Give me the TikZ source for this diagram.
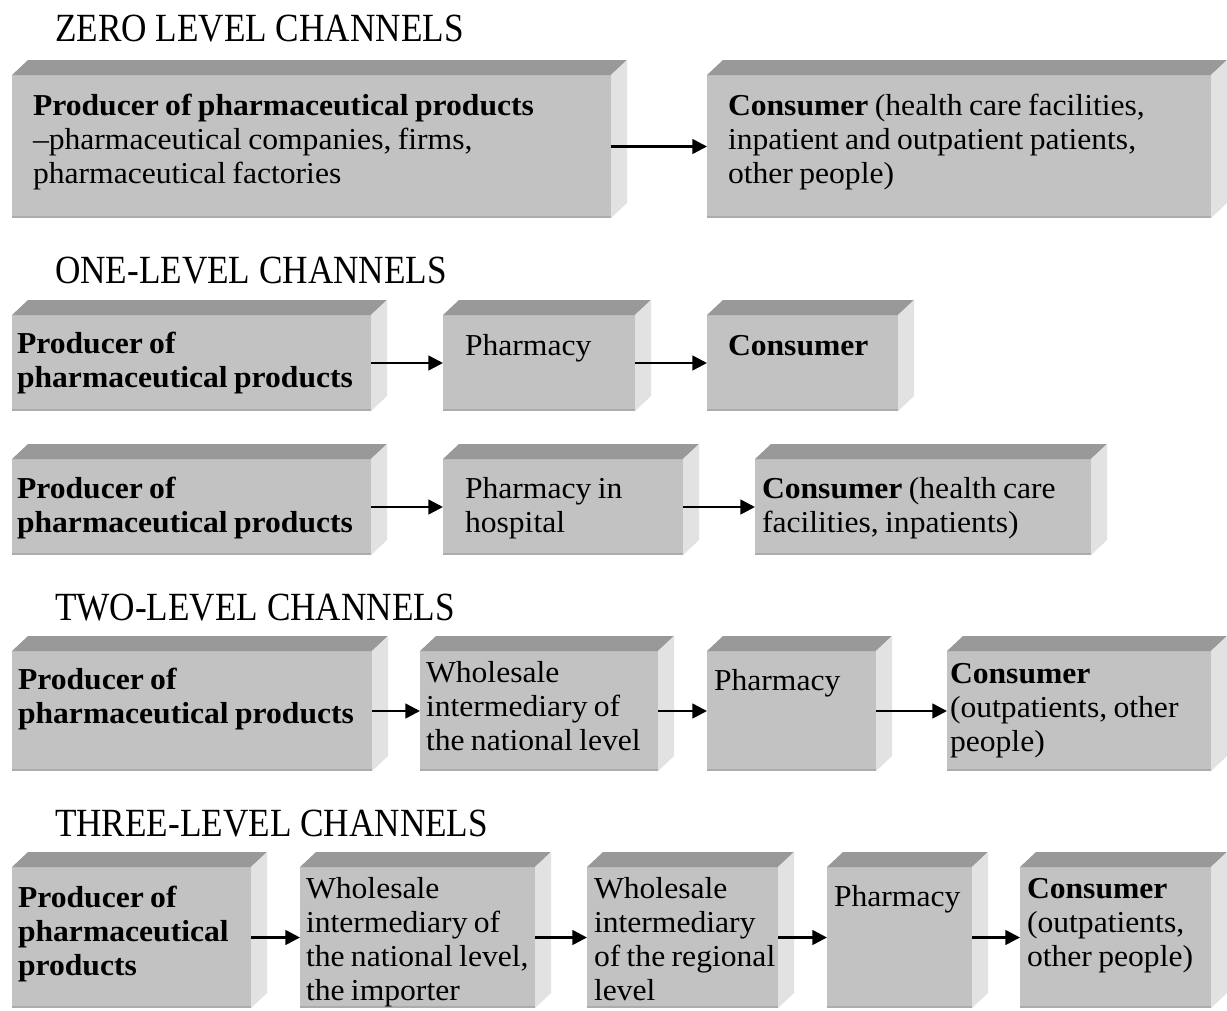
\documentclass[tikz,border=0pt]{standalone}
\usepackage{fontspec}
\setmainfont{Liberation Serif}[FakeStretch=1.04]
\newfontfamily\titlefont{Liberation Serif}[FakeStretch=0.88]
\usetikzlibrary{arrows.meta,fit}
\definecolor{frontc}{RGB}{194,194,194}
\definecolor{topc}{RGB}{153,153,153}
\definecolor{sidec}{RGB}{226,226,226}
\definecolor{edgec}{RGB}{172,172,172}
\newcommand\tightspacing{\spaceskip=0.21em plus 0.05em\relax}
\tikzset{
  front/.style={fill=frontc, inner sep=0pt, outer sep=0pt, draw=none},
  txt/.style={anchor=base west, inner sep=0pt, outer sep=0pt, text width=640pt, align=left,
    font=\fontsize{22.8}{25.5}\selectfont, execute at begin node=\tightspacing},
  ttl/.style={anchor=base west, inner sep=0pt, outer sep=0pt, font=\titlefont\fontsize{30}{36}\selectfont},
  flow/.style={line width=1.9pt, -{Triangle[length=11pt,width=11pt]}},
}
\newcommand\mkcube[5]{%
  \node[front, fit={(#2,#3) (#4,#5)}] (#1) {};
  \fill[topc] (#1.north west) -- ([shift={(16,-15)}]#1.north west) -- ([shift={(16,-15)}]#1.north east) -- (#1.north east) -- cycle;
  \fill[sidec] (#1.north east) -- ([shift={(16,-15)}]#1.north east) -- ([shift={(16,-15)}]#1.south east) -- (#1.south east) -- cycle;
  \draw[edgec, line width=1.2pt] ([yshift=0.6pt]#1.south west) -- ([yshift=0.6pt]#1.south east);
}
\begin{document}
\begin{tikzpicture}[x=0.75pt, y=-0.75pt]
\useasboundingbox[fill=white] (0,0) rectangle (1227,1010);

% titles
\node[ttl] (t0) at (55,41) {ZERO LEVEL CHANNELS};
\node[ttl] (t1) at (55,283) {ONE-LEVEL CHANNELS};
\node[ttl] (t2) at (55,620) {TWO-LEVEL CHANNELS};
\node[ttl] (t3) at (55,836) {THREE-LEVEL CHANNELS};

% boxes
\mkcube{A}{12}{75}{611}{218}
\mkcube{B}{707}{75}{1211}{218}
\mkcube{C}{12}{315}{371}{411}
\mkcube{D}{443}{315}{635}{411}
\mkcube{E}{707}{315}{898}{411}
\mkcube{F}{12}{459}{371}{555}
\mkcube{G}{443}{459}{683}{555}
\mkcube{H}{755}{459}{1091}{555}
\mkcube{I}{12}{651}{372}{771}
\mkcube{J}{420}{651}{658}{771}
\mkcube{K}{707}{651}{876}{771}
\mkcube{L}{947}{651}{1211}{771}
\mkcube{M}{12}{867}{251}{1008}
\mkcube{N}{300}{867}{535}{1008}
\mkcube{O}{587}{867}{778}{1008}
\mkcube{P}{827}{867}{972}{1008}
\mkcube{Q}{1020}{867}{1211}{1008}

% texts
\node[txt] (At) at (33,115) {\textbf{Producer of pharmaceutical products}\\ –pharmaceutical companies, firms,\\ pharmaceutical factories};
\node[txt] (Bt) at (728,115) {\textbf{Consumer} (health care facilities,\\ inpatient and outpatient patients,\\ other people)};
\node[txt] (Ct) at (17,353) {\textbf{Producer of\\ pharmaceutical products}};
\node[txt] (Dt) at (465,355) {Pharmacy};
\node[txt] (Et) at (728,355) {\textbf{Consumer}};
\node[txt] (Ft) at (17,498) {\textbf{Producer of\\ pharmaceutical products}};
\node[txt] (Gt) at (465,498) {Pharmacy in\\ hospital};
\node[txt] (Ht) at (762,498) {\textbf{Consumer} (health care\\ facilities, inpatients)};
\node[txt] (It) at (18,689) {\textbf{Producer of\\ pharmaceutical products}};
\node[txt] (Jt) at (426,682) {Wholesale\\ intermediary of\\ the national level};
\node[txt] (Kt) at (714,690) {Pharmacy};
\node[txt] (Lt) at (950,683) {\textbf{Consumer}\\ (outpatients, other\\ people)};
\node[txt] (Mt) at (18,907) {\textbf{Producer of\\ pharmaceutical\\ products}};
\node[txt] (Nt) at (306,898) {Wholesale\\ intermediary of\\ the national level,\\ the importer};
\node[txt] (Ot) at (594,898) {Wholesale\\ intermediary\\ of the regional\\ level};
\node[txt] (Pt) at (834,906) {Pharmacy};
\node[txt] (Qt) at (1027,898) {\textbf{Consumer}\\ (outpatients,\\ other people)};

% connectors
\draw[flow] (A.east) -- (B.west);
\draw[flow] (C.east) -- (D.west);
\draw[flow] (D.east) -- (E.west);
\draw[flow] (F.east) -- (G.west);
\draw[flow] (G.east) -- (H.west);
\draw[flow] (I.east) -- (J.west);
\draw[flow] (J.east) -- (K.west);
\draw[flow] (K.east) -- (L.west);
\draw[flow] (M.east) -- (N.west);
\draw[flow] (N.east) -- (O.west);
\draw[flow] (O.east) -- (P.west);
\draw[flow] (P.east) -- (Q.west);
\end{tikzpicture}
\end{document}
